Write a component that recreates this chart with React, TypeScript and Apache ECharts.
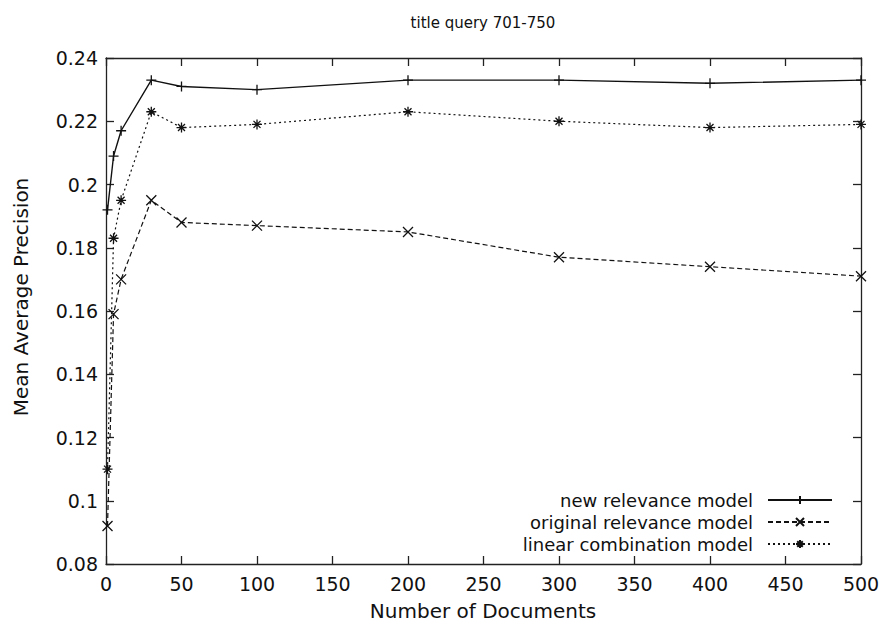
import React, { useEffect, useRef } from "react";
import * as echarts from "echarts";

const titleText = "title query 701-750";
const xName = "Number of Documents";
const yName = "Mean Average Precision";
const seriesNames = ["new relevance model", "original relevance model", "linear combination model"];
const docCounts = [1, 5, 10, 30, 50, 100, 200, 300, 400, 500];
const newModel = [0.192, 0.209, 0.217, 0.233, 0.231, 0.230, 0.233, 0.233, 0.232, 0.233];
const originalModel = [0.092, 0.159, 0.170, 0.195, 0.188, 0.187, 0.185, 0.177, 0.174, 0.171];
const linearModel = [0.110, 0.183, 0.195, 0.223, 0.218, 0.219, 0.223, 0.220, 0.218, 0.219];

const FONT = "DejaVu Sans";
const INK = "#111";

const plusSym = "path://M0,5L10,5M5,0L5,10";
const crossSym = "path://M0,0L10,10M10,0L0,10";
const starSym = "path://M0,5L10,5M5,0L5,10M1.5,1.5L8.5,8.5M8.5,1.5L1.5,8.5";

export default function App() {
  const ref = useRef<HTMLDivElement>(null);
  useEffect(() => {
    if (!ref.current) return;
    const chart = echarts.init(ref.current, null, { renderer: "svg" });
    const pairs = (ys: number[]) => docCounts.map((x, i) => [x, ys[i]]);
    const mkSeries = (name: string, ys: number[], sym: string, type: any, width: number) => ({
      name,
      type: "line",
      data: pairs(ys),
      symbol: sym,
      symbolSize: 10,
      showSymbol: true,
      lineStyle: { color: INK, width, type },
      itemStyle: { color: INK, borderColor: INK, borderWidth: 1.3 },
      emphasis: { disabled: true },
    });
    const xCommon = {
      type: "value",
      min: 0,
      max: 500,
      interval: 50,
      splitLine: { show: false },
      axisLine: { show: true, onZero: false, lineStyle: { color: "#222", width: 1.3 } },
      axisTick: { show: true, inside: true, length: 8, lineStyle: { color: "#222", width: 1.3 } },
    };
    const yCommon = {
      type: "value",
      min: 0.08,
      max: 0.24,
      interval: 0.02,
      splitLine: { show: false },
      axisLine: { show: true, onZero: false, lineStyle: { color: "#222", width: 1.3 } },
      axisTick: { show: true, inside: true, length: 8, lineStyle: { color: "#222", width: 1.3 } },
    };
    chart.setOption({
      animation: false,
      backgroundColor: "#fff",
      grid: { left: 106, right: 22, top: 58, bottom: 66, containLabel: false },
      xAxis: [
        {
          ...xCommon,
          position: "bottom",
          axisLabel: { color: INK, fontFamily: FONT, fontSize: 19, margin: 10 },
        },
        { ...xCommon, position: "top", axisLabel: { show: false } },
      ],
      yAxis: [
        {
          ...yCommon,
          position: "left",
          axisLabel: {
            color: INK,
            fontFamily: FONT,
            fontSize: 19,
            margin: 8,
            formatter: (v: number) => String(+v.toFixed(2)),
          },
        },
        { ...yCommon, position: "right", axisLabel: { show: false } },
      ],
      legend: {
        orient: "vertical",
        right: 45,
        top: 485,
        align: "right",
        itemWidth: 64,
        itemHeight: 10,
        itemGap: 2,
        textStyle: { color: INK, fontFamily: FONT, fontSize: 18, lineHeight: 20, padding: [0, 10, 0, 0] },
        data: seriesNames,
        selectedMode: false,
      },
      graphic: [
        {
          type: "text",
          x: 483,
          y: 23,
          style: { text: titleText, align: "center", verticalAlign: "middle", font: `15px "${FONT}"`, fill: INK },
        },
        {
          type: "text",
          x: 483,
          y: 611,
          style: { text: xName, align: "center", verticalAlign: "middle", font: `20px "${FONT}"`, fill: INK },
        },
        {
          type: "text",
          x: 21,
          y: 297,
          rotation: Math.PI / 2,
          style: { text: yName, align: "center", verticalAlign: "middle", font: `20px "${FONT}"`, fill: INK },
        },
      ],
      series: [
        mkSeries(seriesNames[0], newModel, plusSym, "solid", 1.4),
        mkSeries(seriesNames[1], originalModel, crossSym, [5, 3], 1.2),
        mkSeries(seriesNames[2], linearModel, starSym, [2, 3], 1.2),
      ],
    });
    return () => chart.dispose();
  }, []);
  return (
    <div
      ref={ref}
      style={{ position: "fixed", left: 0, top: 0, width: 883, height: 630, background: "#fff" }}
    />
  );
}
